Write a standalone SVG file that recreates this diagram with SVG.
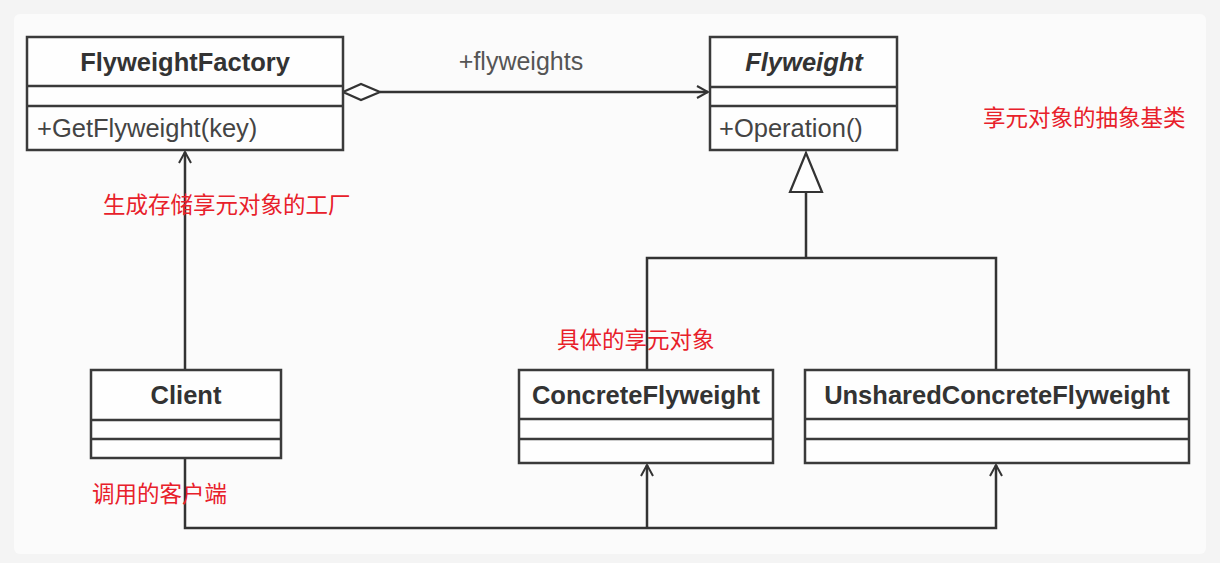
<svg xmlns="http://www.w3.org/2000/svg" width="1220" height="563" viewBox="0 0 1220 563">
<style>
.box{fill:#fefefe;stroke:#3a3a3a;stroke-width:2.5}
.div{stroke:#3a3a3a;stroke-width:2.5}
.name{font-family:"Liberation Sans",Arial,sans-serif;font-weight:bold;font-size:25.5px;fill:#333;text-anchor:middle}
.op{font-family:"Liberation Sans",Arial,sans-serif;font-size:25.5px;fill:#444}
.note{font-family:"Liberation Sans","Noto Sans CJK SC",sans-serif;font-size:22.5px;fill:#e8202a}
.conn{fill:none;stroke:#333;stroke-width:2.5}
</style>
<defs>
<marker id="open" markerWidth="14" markerHeight="14" refX="12" refY="7" orient="auto" markerUnits="userSpaceOnUse">
<path d="M1,1 L12,7 L1,13" fill="none" stroke="#333" stroke-width="2"/>
</marker>
</defs>
<rect x="0" y="0" width="1220" height="563" fill="#f4f4f4"/>
<rect x="14" y="14" width="1192" height="540" rx="6" fill="#fbfbfb"/>
<g id="connectors">
<path class="conn" d="M380,92 L708,92" marker-end="url(#open)"/>
<path d="M343,92 L361,84 L380,92 L361,100 Z" fill="#fefefe" stroke="#333" stroke-width="2.2"/>
<path class="conn" d="M185,369 L185,152" marker-end="url(#open)"/>
<path class="conn" d="M806,192 L806,258 M647,370 L647,258 L996,258 L996,370"/>
<path d="M806,153 L822,192 L790,192 Z" fill="#fefefe" stroke="#333" stroke-width="2.2"/>
<path class="conn" d="M185,458 L185,528 L647,528"/>
<path class="conn" d="M647,528 L647,465" marker-end="url(#open)"/>
<path class="conn" d="M647,528 L996,528 L996,465" marker-end="url(#open)"/>
<text x="521" y="70" font-family="Liberation Sans,Arial,sans-serif" font-size="25" fill="#555" text-anchor="middle">+flyweights</text>
</g>
<g id="FlyweightFactory">
<rect class="box" x="27" y="37" width="316" height="113"/>
<line class="div" x1="27" y1="86" x2="343" y2="86"/>
<line class="div" x1="27" y1="106" x2="343" y2="106"/>
<text class="name" x="185" y="71">FlyweightFactory</text>
<text class="op" x="37" y="137">+GetFlyweight(key)</text>
</g>
<g id="Flyweight">
<rect class="box" x="710" y="37" width="187" height="113"/>
<line class="div" x1="710" y1="87" x2="897" y2="87"/>
<line class="div" x1="710" y1="106" x2="897" y2="106"/>
<text class="name" x="804" y="71" font-style="italic">Flyweight</text>
<text class="op" x="719" y="137">+Operation()</text>
</g>
<g id="Client">
<rect class="box" x="91" y="370" width="190" height="88"/>
<line class="div" x1="91" y1="420" x2="281" y2="420"/>
<line class="div" x1="91" y1="439" x2="281" y2="439"/>
<text class="name" x="186" y="404">Client</text>
</g>
<g id="ConcreteFlyweight">
<rect class="box" x="519" y="370" width="254" height="93"/>
<line class="div" x1="519" y1="419" x2="773" y2="419"/>
<line class="div" x1="519" y1="439" x2="773" y2="439"/>
<text class="name" x="646" y="404">ConcreteFlyweight</text>
</g>
<g id="UnsharedConcreteFlyweight">
<rect class="box" x="805" y="370" width="384" height="93"/>
<line class="div" x1="805" y1="419" x2="1189" y2="419"/>
<line class="div" x1="805" y1="439" x2="1189" y2="439"/>
<text class="name" x="997" y="404">UnsharedConcreteFlyweight</text>
</g>
<g id="notes">
<text class="note" x="983" y="126">享元对象的抽象基类</text>
<text class="note" x="103" y="213">生成存储享元对象的工厂</text>
<text class="note" x="557" y="348">具体的享元对象</text>
<text class="note" x="92" y="502">调用的客户端</text>
</g>
</svg>
